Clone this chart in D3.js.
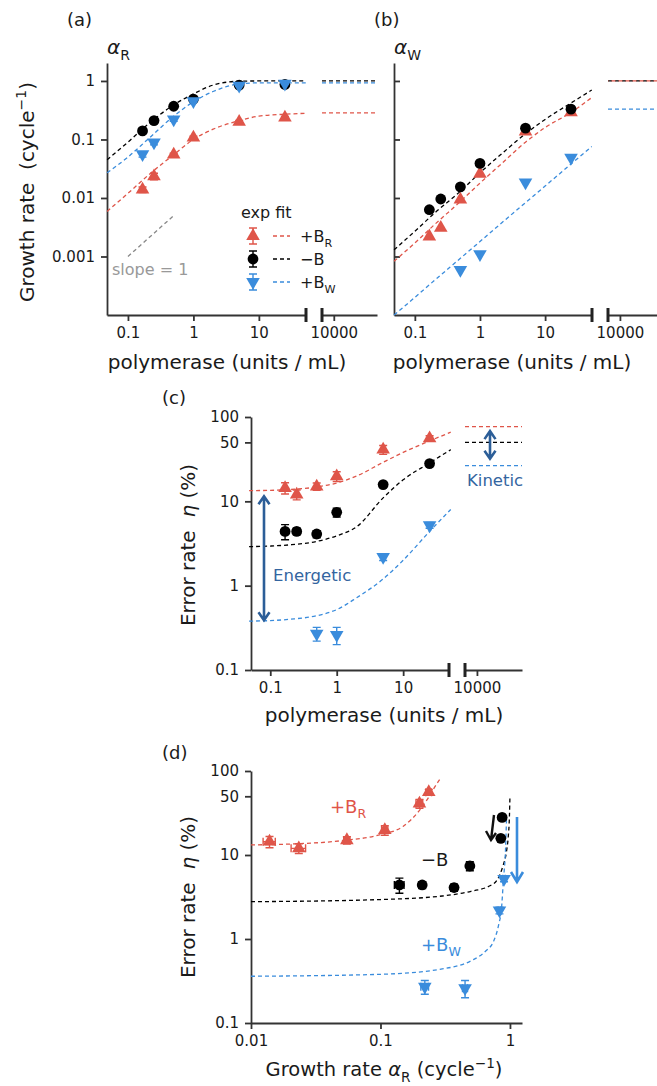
<!DOCTYPE html>
<html>
<meta charset="UTF-8">
<style>
body { margin: 0; background: #fff; }
svg text { font-family: "DejaVu Sans", sans-serif; fill: #1a1a1a; white-space: pre; }
.axis .domain { stroke: #333; stroke-width: 1.8px; }
.axis .tick line { stroke: #333; stroke-width: 1.8px; }
.axis .tick text { font-size: 15px; fill: #1a1a1a; }
.fit { fill: none; stroke-width: 1.3px; stroke-dasharray: 4,3; }
</style>
<svg width="657" height="1086"></svg>
<script src="https://d3js.org/d3.v7.min.js"></script>
<script>
//	polymerase concentrations (units / mL)
var polymerase = [0.167, 0.25, 0.5, 1, 5, 25];
var polymeraseW = [0.5, 1, 5, 25];

//	growth rate alpha_R (cycle^-1), order: +B_R, -B, +B_W
var alphaR_R = [0.0139, 0.0234, 0.055, 0.108, 0.20, 0.236];
var alphaR_B = [0.14, 0.21, 0.37, 0.49, 0.85, 0.87];
var alphaR_W = [0.056, 0.089, 0.22, 0.45, 0.83, 0.9];
var alphaRErr_R = [0.0015, 0.003, 0.003, 0.006, 0.012, 0.012];
var alphaRErr_B = [0.012, 0.01, 0.015, 0.02, 0.02, 0.02];
var alphaRErr_W = [0.006, 0.008, 0.015, 0.02, 0.02, 0.02];

//	growth rate alpha_W (cycle^-1)
var alphaW_R = [0.0022, 0.0031, 0.0094, 0.026, 0.137, 0.29];
var alphaW_B = [0.0063, 0.0096, 0.0155, 0.039, 0.156, 0.33];
var alphaW_W = [0.00059, 0.0011, 0.0185, 0.049];

//	error rate eta (%)
var eta_R = [14.4, 12, 15, 19.8, 41, 56];
var eta_B = [4.4, 4.4, 4.1, 7.4, 15.8, 28];
var eta_W = [0.27, 0.26, 2.19, 5.2];
var etaErr_R = [2.2, 1.6, 1.5, 2.6, 5, 4];
var etaErr_B = [0.9, 0.4, 0.4, 0.9, 0.8, 1.2];
var etaErr_W = [0.05, 0.06, 0.2, 0.4];

var fitP = [0.048, 0.1, 0.2, 0.5, 1, 2, 5, 10, 25, 52];
var fitAlphaR_R = [0.0059, 0.012, 0.024, 0.055, 0.1, 0.15, 0.21, 0.25, 0.27, 0.28];
var fitAlphaR_B = [0.045, 0.09, 0.18, 0.39, 0.6, 0.85, 0.99, 1.0, 1.0, 1.0];
var fitAlphaR_W = [0.027, 0.05, 0.1, 0.25, 0.44, 0.66, 0.89, 0.93, 0.93, 0.93];
var fitAlphaW_R = [0.00083, 0.0017, 0.0035, 0.0087, 0.018, 0.036, 0.09, 0.16, 0.29, 0.52];
var fitAlphaW_B = [0.0013, 0.0027, 0.0055, 0.013, 0.027, 0.053, 0.125, 0.22, 0.42, 0.70];
var fitAlphaW_W = [0.0001, 0.0002, 0.00039, 0.00093, 0.0018, 0.0035, 0.0083, 0.016, 0.038, 0.076];
var fitEta_R = [13.4, 13.5, 13.8, 14.8, 16.5, 20, 29, 38, 52, 66];
var fitEta_B = [2.9, 2.95, 3.05, 3.35, 3.9, 5.0, 11, 18, 28.5, 41];
var fitEta_W = [0.38, 0.385, 0.4, 0.44, 0.52, 0.72, 1.2, 2.0, 4.4, 8.0];

//	limits at saturating polymerase (right-hand axis segment)
var limAlphaR = [0.285, 1.0, 0.93];
var limAlphaW = [1.0, 1.0, 0.33];
var limEta = [77, 50, 26.5];

//	panel (d): eta vs alpha_R fit curves
var dFitA_R = [0.01, 0.02, 0.05, 0.1, 0.15, 0.2, 0.23, 0.26, 0.288];
var dFitE_R = [13.2, 13.5, 14.8, 17.5, 22, 34, 46, 63, 80];
var dFitA_B = [0.01, 0.1, 0.3, 0.5, 0.7, 0.8, 0.88, 0.94, 0.97, 0.99, 1.0];
var dFitE_B = [2.78, 2.95, 3.25, 3.7, 4.3, 5.1, 7.3, 11, 16.5, 28, 50];
var dFitA_W = [0.01, 0.1, 0.3, 0.5, 0.65, 0.75, 0.82, 0.86, 0.89, 0.925, 0.94];
var dFitE_W = [0.36, 0.38, 0.44, 0.55, 0.72, 0.95, 1.5, 2.3, 5.0, 12, 26];

//	slope = 1 guide
var slopeX = [0.1, 0.5], slopeY = [0.001, 0.005];

var red = "#df5549", blue = "#3a8cdc", black = "#000", navy = "#2c5e98";
var colors = [red, black, blue], shapes = ["up", "circle", "down"];

var svg = d3.select("svg");
var fmt = d3.format("~g");

//	helpers
function marker(g, shape, color, x, y) {
	if (shape == "circle") {
		g.append("circle").attr("cx", x).attr("cy", y).attr("r", 5.4).attr("fill", color);
	} else {
		g.append("path")
			.attr("d", d3.symbol(d3.symbolTriangle, 80)())
			.attr("transform", "translate(" + x + "," + y + ")" + (shape == "down" ? " rotate(180)" : ""))
			.attr("fill", color);
	}
}
function errV(g, color, x, y0, y1) {
	g.append("path").attr("d", "M" + x + "," + y0 + "V" + y1 + "M" + (x - 4) + "," + y0 + "h8M" + (x - 4) + "," + y1 + "h8")
		.attr("stroke", color).attr("stroke-width", 1.4).attr("fill", "none");
}
function errH(g, color, y, x0, x1) {
	g.append("path").attr("d", "M" + x0 + "," + y + "H" + x1 + "M" + x0 + "," + (y - 4) + "v8M" + x1 + "," + (y - 4) + "v8")
		.attr("stroke", color).attr("stroke-width", 1.4).attr("fill", "none");
}
function fitLine(g, color, xs, ys, sx, sy) {
	var line = d3.line().x(function(d) { return sx(d[0]); }).y(function(d) { return sy(d[1]); }).curve(d3.curveMonotoneX);
	g.append("path").attr("class", "fit").attr("stroke", color).attr("d", line(d3.zip(xs, ys)));
}
function limLine(g, color, v, sx, sy, offset) {
	var d = sx.domain();
	g.append("path").attr("class", "fit").attr("stroke", color).style("stroke-dashoffset", offset || 0)
		.attr("d", "M" + sx(d[0]) + "," + sy(v) + "H" + sx(d[1]));
}
//	text with subscript / superscript parts
function rich(g, x, y, size, parts, opts) {
	opts = opts || {};
	var t = g.append("text").attr("x", x).attr("y", y).attr("font-size", size);
	if (opts.anchor) t.attr("text-anchor", opts.anchor);
	if (opts.color) t.style("fill", opts.color);
	if (opts.rotate) t.attr("transform", "rotate(-90," + x + "," + y + ")");
	var shift = 0;
	parts.forEach(function(p) {
		var s = t.append("tspan").text(p.t);
		var target = p.sub ? size * 0.3 : p.sup ? -size * 0.4 : 0;
		if (target != shift) { s.attr("dy", target - shift); shift = target; }
		if (p.sub || p.sup) s.attr("font-size", size * 0.7);
		if (p.it) s.attr("font-style", "italic");
		if (p.c) s.style("fill", p.c);
	});
	return t;
}
function xAxisBroken(g, sx, sxR, y, ticks) {
	g.append("g").attr("class", "axis").attr("transform", "translate(0," + y + ")")
		.call(d3.axisBottom(sx).tickValues(ticks).tickFormat(fmt).tickSize(6).tickSizeOuter(0).tickPadding(6));
	g.append("g").attr("class", "axis").attr("transform", "translate(0," + y + ")")
		.call(d3.axisBottom(sxR).tickValues([1e4]).tickFormat(fmt).tickSize(6).tickSizeOuter(0).tickPadding(6));
	[sx.range()[1], sxR.range()[0]].forEach(function(bx) {
		g.append("line").attr("x1", bx).attr("x2", bx).attr("y1", y - 7).attr("y2", y + 7)
			.attr("stroke", "#222").attr("stroke-width", 3);
	});
}

//	===== panel (a) alpha_R =====
var xa = d3.scaleLog().domain([Math.pow(10, -1.32), Math.pow(10, 1.72)]).range([107, 306]);
var xaR = d3.scaleLog().domain([Math.pow(10, 3.82), Math.pow(10, 4.66)]).range([322, 377]);
var ya = d3.scaleLog().domain([1e-4, Math.pow(10, 0.307)]).range([315, 63]);
var ga = svg.append("g");
ga.append("g").attr("class", "axis").attr("transform", "translate(107,0)")
	.call(d3.axisLeft(ya).tickValues([0.001, 0.01, 0.1, 1]).tickFormat(fmt).tickSize(6).tickSizeOuter(0).tickPadding(6));
xAxisBroken(ga, xa, xaR, 315, [0.1, 1, 10]);

var fitsA = [fitAlphaR_R, fitAlphaR_B, fitAlphaR_W];
fitsA.forEach(function(f, i) { fitLine(ga, colors[i], fitP, f, xa, ya); limLine(ga, colors[i], limAlphaR[i], xaR, ya); });
ga.append("path").attr("class", "fit").attr("stroke", "#888")
	.attr("d", d3.line().x(function(d) { return xa(d[0]); }).y(function(d) { return ya(d[1]); })(d3.zip(slopeX, slopeY)));
ga.append("text").attr("x", 112).attr("y", 275).attr("font-size", 16).style("fill", "#999").text("slope = 1");

[[alphaR_R, alphaRErr_R], [alphaR_B, alphaRErr_B], [alphaR_W, alphaRErr_W]].forEach(function(s, i) {
	s[0].forEach(function(v, j) {
		errV(ga, colors[i], xa(polymerase[j]), ya(v + s[1][j]), ya(v - s[1][j]));
		marker(ga, shapes[i], colors[i], xa(polymerase[j]), ya(v));
	});
});

//	legend
ga.append("text").attr("x", 241).attr("y", 218).attr("font-size", 16).text("exp fit");
var legendLabels = [[{t: "+B"}, {t: "R", sub: true}], [{t: "\u2212B"}], [{t: "+B"}, {t: "W", sub: true}]];
[236, 259, 282].forEach(function(ly, i) {
	errV(ga, colors[i], 253, ly - 8, ly + 8);
	marker(ga, shapes[i], colors[i], 253, ly);
	ga.append("path").attr("class", "fit").attr("stroke", colors[i]).attr("d", "M273," + ly + "H290");
	rich(ga, 300, ly + 6, 16, legendLabels[i]);
});

ga.append("text").attr("x", 67).attr("y", 26).attr("font-size", 18).text("(a)");
rich(ga, 107, 54, 20, [{t: "\u03b1", it: true}, {t: "R", sub: true}]);
rich(ga, 34, 192, 20, [{t: "Growth rate  (cycle"}, {t: "\u22121", sup: true}, {t: ")"}], {anchor: "middle", rotate: true});
ga.append("text").attr("x", 227).attr("y", 369).attr("font-size", 20).attr("text-anchor", "middle").text("polymerase (units / mL)");

//	===== panel (b) alpha_W =====
var xb = d3.scaleLog().domain(xa.domain()).range([394, 592]);
var xbR = d3.scaleLog().domain([Math.pow(10, 3.82), Math.pow(10, 4.56)]).range([608, 657]);
var gb = svg.append("g");
gb.append("g").attr("class", "axis").attr("transform", "translate(394,0)")
	.call(d3.axisRight(ya).tickValues([0.001, 0.01, 0.1, 1]).tickFormat("").tickSize(6).tickSizeOuter(0));
xAxisBroken(gb, xb, xbR, 315, [0.1, 1, 10]);

[fitAlphaW_R, fitAlphaW_B, fitAlphaW_W].forEach(function(f, i) { fitLine(gb, colors[i], fitP, f, xb, ya); });
limLine(gb, blue, limAlphaW[2], xbR, ya);
limLine(gb, black, limAlphaW[1], xbR, ya);
limLine(gb, red, limAlphaW[0], xbR, ya, 3.5);
[[alphaW_R, polymerase], [alphaW_B, polymerase], [alphaW_W, polymeraseW]].forEach(function(s, i) {
	s[0].forEach(function(v, j) { marker(gb, shapes[i], colors[i], xb(s[1][j]), ya(v)); });
});

gb.append("text").attr("x", 374).attr("y", 26).attr("font-size", 18).text("(b)");
rich(gb, 394, 54, 20, [{t: "\u03b1", it: true}, {t: "W", sub: true}]);
gb.append("text").attr("x", 512).attr("y", 369).attr("font-size", 20).attr("text-anchor", "middle").text("polymerase (units / mL)");

//	===== panel (c) error rate vs polymerase =====
var xc = d3.scaleLog().domain([Math.pow(10, -1.29), Math.pow(10, 1.69)]).range([251, 449]);
var xcR = d3.scaleLog().domain([Math.pow(10, 3.82), Math.pow(10, 4.68)]).range([465, 522]);
var yc = d3.scaleLog().domain([0.1, 100]).range([670, 417]);
var gc = svg.append("g");
gc.append("g").attr("class", "axis").attr("transform", "translate(251,0)")
	.call(d3.axisLeft(yc).tickValues([0.1, 1, 10, 50, 100]).tickFormat(fmt).tickSize(6).tickSizeOuter(0).tickPadding(6));
xAxisBroken(gc, xc, xcR, 670, [0.1, 1, 10]);

[fitEta_R, fitEta_B, fitEta_W].forEach(function(f, i) { fitLine(gc, colors[i], fitP, f, xc, yc); limLine(gc, colors[i], limEta[i], xcR, yc); });
[[eta_R, etaErr_R, polymerase], [eta_B, etaErr_B, polymerase], [eta_W, etaErr_W, polymeraseW]].forEach(function(s, i) {
	s[0].forEach(function(v, j) {
		errV(gc, colors[i], xc(s[2][j]), yc(v + s[1][j]), yc(v - s[1][j]));
		marker(gc, shapes[i], colors[i], xc(s[2][j]), yc(v));
	});
});

function dblArrow(g, color, x, y0, y1) {
	g.append("path").attr("fill", "none").attr("stroke", color).attr("stroke-width", 2.6)
		.attr("d", "M" + x + "," + y0 + "V" + y1 + "M" + (x - 5.5) + "," + (y0 + 8) + "L" + x + "," + y0 + "L" + (x + 5.5) + "," + (y0 + 8)
			+ "M" + (x - 5.5) + "," + (y1 - 8) + "L" + x + "," + y1 + "L" + (x + 5.5) + "," + (y1 - 8));
}
dblArrow(gc, navy, 264, yc(11.5), yc(0.39));
dblArrow(gc, navy, 490, yc(68), yc(32));
gc.append("text").attr("x", 273).attr("y", 581).attr("font-size", 16.5).style("fill", "#3465a0").text("Energetic");
gc.append("text").attr("x", 467).attr("y", 486).attr("font-size", 16.5).style("fill", "#3465a0").text("Kinetic");

gc.append("text").attr("x", 162).attr("y", 404).attr("font-size", 18).text("(c)");
rich(gc, 195, 545, 20, [{t: "Error rate  "}, {t: "\u03b7", it: true}, {t: " (%)"}], {anchor: "middle", rotate: true});
gc.append("text").attr("x", 384).attr("y", 722).attr("font-size", 20).attr("text-anchor", "middle").text("polymerase (units / mL)");

//	===== panel (d) error rate vs growth rate =====
var xd = d3.scaleLog().domain([0.01, Math.pow(10, 0.093)]).range([251, 522]);
var yd = d3.scaleLog().domain([0.1, 100]).range([1023, 771]);
var gd = svg.append("g");
gd.append("g").attr("class", "axis").attr("transform", "translate(251,0)")
	.call(d3.axisLeft(yd).tickValues([0.1, 1, 10, 50, 100]).tickFormat(fmt).tickSize(6).tickSizeOuter(0).tickPadding(6));
gd.append("g").attr("class", "axis").attr("transform", "translate(0,1023)")
	.call(d3.axisBottom(xd).tickValues([0.01, 0.1, 1]).tickFormat(fmt).tickSize(6).tickSizeOuter(0).tickPadding(6));

fitLine(gd, red, dFitA_R, dFitE_R, xd, yd);
fitLine(gd, black, dFitA_B, dFitE_B, xd, yd);
fitLine(gd, blue, dFitA_W, dFitE_W, xd, yd);

[[alphaR_R, alphaRErr_R, eta_R, etaErr_R], [alphaR_B, alphaRErr_B, eta_B, etaErr_B],
 [alphaR_W.slice(2), alphaRErr_W.slice(2), eta_W, etaErr_W]].forEach(function(s, i) {
	s[0].forEach(function(a, j) {
		var px = xd(a), py = yd(s[2][j]);
		errV(gd, colors[i], px, yd(s[2][j] + s[3][j]), yd(s[2][j] - s[3][j]));
		errH(gd, colors[i], py, xd(a - s[1][j]), xd(a + s[1][j]));
		marker(gd, shapes[i], colors[i], px, py);
	});
});

//	arrows toward the kinetic limit
gd.append("path").attr("fill", "none").attr("stroke", "#111").attr("stroke-width", 2.4)
	.attr("d", "M494,815L491,840M486,831L491,840L496,833");
gd.append("path").attr("fill", "none").attr("stroke", blue).attr("stroke-width", 2.6)
	.attr("d", "M517,817V882M511,872L517,882L523,872");

rich(gd, 330, 813, 18, [{t: "+B"}, {t: "R", sub: true}], {color: red});
rich(gd, 421, 866, 18, [{t: "\u2212B"}]);
rich(gd, 421, 951, 18, [{t: "+B"}, {t: "W", sub: true}], {color: blue});

gd.append("text").attr("x", 162).attr("y", 759).attr("font-size", 18).text("(d)");
rich(gd, 195, 897, 20, [{t: "Error rate  "}, {t: "\u03b7", it: true}, {t: " (%)"}], {anchor: "middle", rotate: true});
rich(gd, 384, 1076, 19.5, [{t: "Growth rate "}, {t: "\u03b1", it: true}, {t: "R", sub: true}, {t: " (cycle"}, {t: "\u22121", sup: true}, {t: ")"}], {anchor: "middle"});
</script>
</html>
